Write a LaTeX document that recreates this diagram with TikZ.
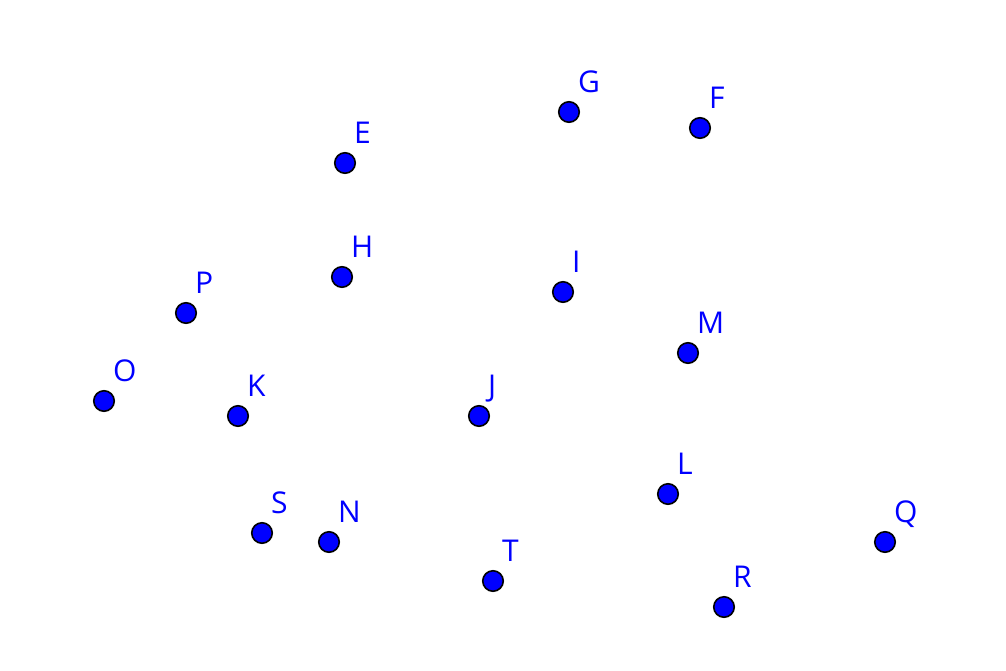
\documentclass[tikz,border=0pt]{standalone}
\usepackage{fontspec}
\setmainfont{Open Sans}
\begin{document}
\begin{tikzpicture}[x=1pt,y=-1pt,
  pt/.style={circle,draw=black,line width=1.6pt,fill=blue,minimum size=20.5pt,inner sep=0pt},
  lab/.style={anchor=base west,inner sep=0pt,text=blue,font=\fontsize{30}{30}\selectfont}]
\useasboundingbox (0,0) rectangle (1006,670);
\foreach \n/\x/\y in {E/345/163,G/569/112,F/700/128,H/342/277,I/563/292,P/186/313,M/688/353,O/104/401,K/238/416,J/479/416,L/668/494,S/262/533,N/329/542,Q/885/542,T/493/581,R/724/607}{
  \node[pt] (p\n) at (\x,\y) {};
  \node[lab] (l\n) at (\x+9,\y-20) {\n};
}
\end{tikzpicture}
\end{document}
